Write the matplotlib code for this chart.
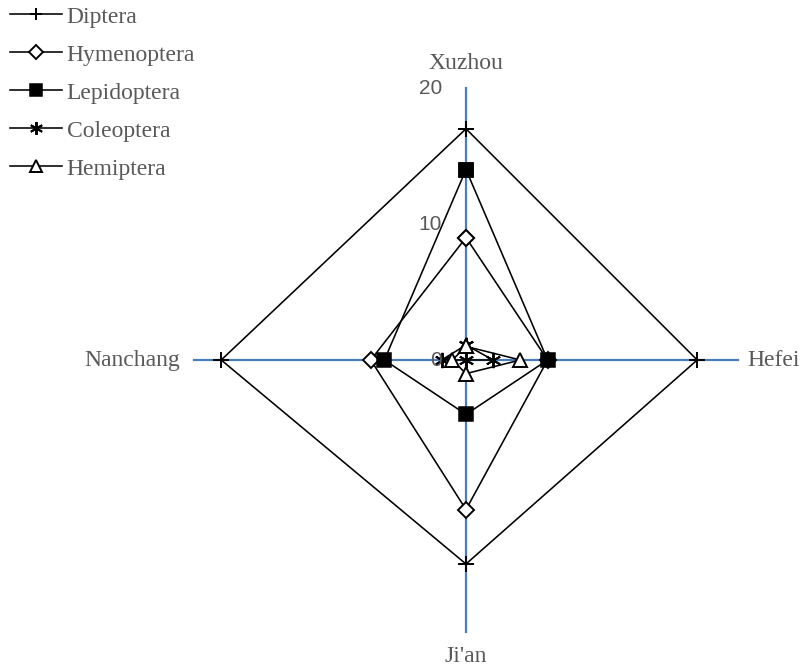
import numpy as np
import matplotlib.pyplot as plt

# radar of insect order counts per site
sites = ["Xuzhou", "Hefei", "Ji'an", "Nanchang"]
orders = ["Diptera", "Hymenoptera", "Lepidoptera", "Coleoptera", "Hemiptera"]
diptera = [17, 17, 15, 18]
hymenoptera = [9, 6, 11, 7]
lepidoptera = [14, 6, 4, 6]
coleoptera = [1.1, 2, 0, 1.8]
hemiptera = [1, 4, 1, 1]
r_ticks = [0, 10, 20]

series = [diptera, hymenoptera, lepidoptera, coleoptera, hemiptera]
styles = [
    dict(marker="+", ms=11, mew=1.4, mfc="black"),
    dict(marker="D", ms=8, mew=1.4, mfc="white"),
    dict(marker="s", ms=10, mew=1.1, mfc="black"),
    dict(marker=(6, 2, 0), ms=11, mew=1.4, mfc="black"),
    dict(marker="^", ms=10, mew=1.4, mfc="white"),
]

# angles clockwise from top: Xuzhou, Hefei, Ji'an, Nanchang
theta = np.array([0, 90, 180, 270]) * np.pi / 180
rmax = 20
px = 13.6  # pixels per unit

fig = plt.figure(figsize=(8.03, 6.70), dpi=100)
ax = fig.add_axes([0, 0, 1, 1])
ax.set_xlim(-466 / px, (803 - 466) / px)
ax.set_ylim(-310 / px, 360 / px)
ax.axis("off")

axis_color = "#4a7ebb"
ax.plot([-rmax, rmax], [0, 0], color=axis_color, lw=1.6, zorder=1)
ax.plot([0, 0], [-rmax, rmax], color=axis_color, lw=1.6, zorder=1)

for vals, name, st in zip(series, orders, styles):
    v = np.array(vals + vals[:1], dtype=float)
    t = np.concatenate([theta, theta[:1]])
    x = v * np.sin(t)
    y = v * np.cos(t)
    ax.plot(x, y, color="black", lw=1.15, mec="black", label=name, zorder=3, **st)

grey = "#595959"
for r in r_ticks:
    ax.text(-1.75, r, str(r), ha="right", va="center", color=grey,
            fontsize=15, family="Liberation Sans")

serif = "Liberation Serif"
ax.text(0, 21.8, sites[0], ha="center", va="center", color=grey, fontsize=17, family=serif)
ax.text(20.7, 0, sites[1], ha="left", va="center", color=grey, fontsize=17, family=serif)
ax.text(0, -21.8, sites[2], ha="center", va="center", color=grey, fontsize=17, family=serif)
ax.text(-21.0, 0, sites[3], ha="right", va="center", color=grey, fontsize=17, family=serif)

leg = ax.legend(loc="upper left", bbox_to_anchor=(10 / 803, 1 - 6 / 670),
                bbox_transform=fig.transFigure, frameon=False,
                prop=dict(family=serif, size=17), handlelength=2.2,
                handletextpad=0.2, labelspacing=0.7, borderpad=0,
                borderaxespad=0, markerscale=0.85)
for txt in leg.get_texts():
    txt.set_color(grey)

fig.savefig("out.png", dpi=100)
